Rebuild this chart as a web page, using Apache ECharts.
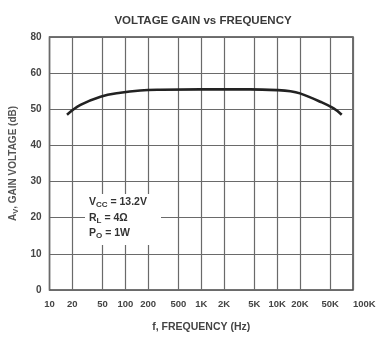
<!DOCTYPE html>
<html>
<head>
<meta charset="utf-8">
<script src="https://cdn.jsdelivr.net/npm/echarts@6/dist/echarts.min.js"></script>
<style>
html,body{margin:0;padding:0;background:#fff;}
#chart{width:380px;height:338px;}
</style>
</head>
<body>
<div id="chart"></div>
<script>
// Data
const freqHz = [17, 25.6, 47, 86, 157, 288, 970, 4400, 10000, 15000, 20000, 37000, 55000, 71000];
const gainDb = [48.5, 51.2, 53.5, 54.6, 55.2, 55.4, 55.5, 55.5, 55.3, 55.0, 54.4, 52.1, 50.3, 48.5];
const xTickValues = [10, 20, 50, 100, 200, 500, 1000, 2000, 5000, 10000, 20000, 50000, 100000];
const xTickLabels = ['10', '20', '50', '100', '200', '500', '1K', '2K', '5K', '10K', '20K', '50K', '100K'];
const yTickLabels = ['0', '10', '20', '30', '40', '50', '60', '80'];
const titleText = 'VOLTAGE GAIN vs FREQUENCY';
const conditions = ['V_CC = 13.2V', 'R_L = 4Ω', 'P_O = 1W'];

const chart = echarts.init(document.getElementById('chart'), null, {renderer: 'canvas'});
const font = 'Liberation Sans, Arial, sans-serif';
const gridColor = '#6a6a6a';

function subText(s) {
  const m = s.match(/^(\w)_(\w+)(.*)$/);
  return '{m|' + m[1] + '}{s|' + m[2] + '}{m|' + m[3] + '}';
}

chart.setOption({
  animation: false,
  backgroundColor: '#fff',
  title: {
    text: titleText,
    left: 198, top: 10, textAlign: 'center',
    textStyle: {fontFamily: font, fontSize: 11.5, fontWeight: 'bold', color: '#3a3a3a'}
  },
  grid: {left: 49, right: 27, top: 37, bottom: 47, show: true, borderColor: '#444', borderWidth: 1.5},
  xAxis: {
    type: 'log', logBase: 10, min: 10, max: 100000,
    name: 'f, FREQUENCY (Hz)', nameLocation: 'middle', nameGap: 32,
    nameTextStyle: {fontFamily: font, fontSize: 10.5, fontWeight: 'bold', color: '#444'},
    axisLine: {show: false},
    axisTick: {show: false, customValues: xTickValues},
    axisLabel: {
      customValues: xTickValues,
      formatter: v => { const i = xTickValues.findIndex(t => Math.abs(t - v) / t < 1e-6); return i >= 0 ? xTickLabels[i] : ''; },
      fontFamily: font, fontSize: 9.5, fontWeight: 'bold', color: '#444', margin: 9,
      showMinLabel: true, showMaxLabel: true, alignMaxLabel: 'left'
    },
    splitLine: {show: true, lineStyle: {color: gridColor, width: 1.2}}
  },
  yAxis: {
    type: 'value', min: 0, max: 70, interval: 10,
    name: '{m|A}{s|V}{m|, GAIN VOLTAGE (dB)}', nameLocation: 'middle', nameGap: 28, nameRotate: 90,
    nameTextStyle: {
      rich: {
        m: {fontFamily: font, fontSize: 10, fontWeight: 'bold', color: '#555'},
        s: {fontFamily: font, fontSize: 7.5, fontWeight: 'bold', color: '#555', verticalAlign: 'bottom', padding: [5, 0, 0, 0]}
      }
    },
    axisLine: {show: false},
    axisTick: {show: false},
    axisLabel: {
      formatter: v => yTickLabels[Math.round(v / 10)],
      fontFamily: font, fontSize: 10, fontWeight: 'bold', color: '#444', margin: 8
    },
    splitLine: {show: true, lineStyle: {color: gridColor, width: 1.2}}
  },
  graphic: [
    {type: 'rect', left: 85, top: 194, shape: {width: 76, height: 51}, style: {fill: '#fff'}, z: 5},
    {
      type: 'text', left: 89, top: 196, z: 6,
      style: {
        text: conditions.map(subText).join('\n'),
        rich: {
          m: {fontFamily: font, fontSize: 10.5, fontWeight: 'bold', fill: '#333', lineHeight: 15.5},
          s: {fontFamily: font, fontSize: 8, fontWeight: 'bold', fill: '#333', lineHeight: 15.5, padding: [5, 0, 0, 0]}
        }
      }
    }
  ],
  series: [{
    type: 'line',
    data: freqHz.map((f, i) => [f, gainDb[i]]),
    smooth: 0.4,
    symbol: 'none',
    lineStyle: {color: '#222', width: 2.6},
    z: 3
  }]
});
</script>
</body>
</html>
